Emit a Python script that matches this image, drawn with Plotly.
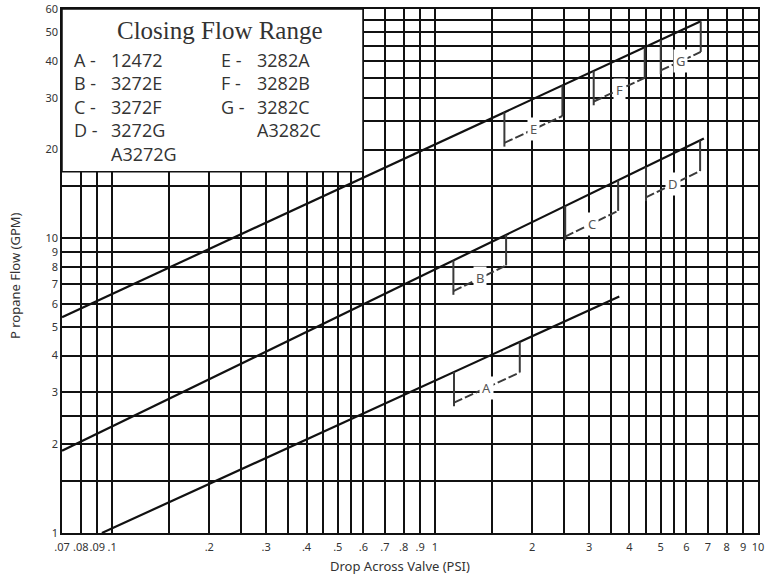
import numpy as np
import plotly.graph_objects as go

# ---------------- data ----------------
x_grid = [0.07, 0.08, 0.09, 0.1, 0.15, 0.2, 0.25, 0.3, 0.35, 0.4, 0.45, 0.5, 0.55, 0.6, 0.7, 0.8, 0.9,
          1, 1.5, 2, 2.5, 3, 3.5, 4, 4.5, 5, 5.5, 6, 7, 8, 9, 10]
x_labels = [".07", ".08", ".09", ".1", "", ".2", "", ".3", "", ".4", "", ".5", "", ".6", ".7", ".8", ".9",
            "1", "", "2", "", "3", "", "4", "", "5", "", "6", "7", "8", "9", "10"]
y_grid = [1, 1.5, 2, 2.5, 3, 4, 5, 6, 7, 8, 9, 10, 15, 20, 25, 30, 35, 40, 45, 50, 55, 60]
y_labels = ["1", "", "2", "", "3", "4", "5", "6", "7", "8", "9", "10", "", "20", "", "30", "", "40", "",
            "50", "", "60"]

# flow lines (end points)
line_x = [[0.07, 6.65], [0.07, 6.8], [0.093, 3.72]]
line_y = [[5.4, 54.5], [1.9, 21.8], [1.0, 6.35]]

# closing flow range brackets
bracket_labels = ["A", "B", "C", "D", "E", "F", "G"]
bracket_line = [2, 1, 1, 1, 0, 0, 0]
bracket_x0 = [1.145, 1.14, 2.53, 4.5, 1.64, 3.10, 5.0]
bracket_x1 = [1.83, 1.66, 3.69, 6.62, 2.48, 4.46, 6.65]
bracket_drop = 1.27

x_title = "Drop Across Valve (PSI)"
y_title = "P ropane Flow (GPM)"
legend_title = "Closing Flow Range"
legend_left_keys = ["A -", "B -", "C -", "D -"]
legend_left_codes = ["12472", "3272E", "3272F", "3272G", "A3272G"]
legend_right_keys = ["E -", "F -", "G -"]
legend_right_codes = ["3282A", "3282B", "3282C", "A3282C"]

# ---------------- figure ----------------
W, H = 767, 576
ML, MR, MT, MB = 62, 9, 9, 43
PW, PH = W - ML - MR, H - MT - MB


def px_x(p):  # window pixel -> paper fraction
    return (p - ML) / PW


def px_y(p):
    return (H - MB - p) / PH


def line_at(i, x):
    return 10 ** np.interp(np.log10(x), np.log10(line_x[i]), np.log10(line_y[i]))


fig = go.Figure()

for lx, ly in zip(line_x, line_y):
    fig.add_trace(go.Scatter(x=lx, y=ly, mode="lines",
                             line=dict(color="#111", width=2.2), hoverinfo="skip"))

annotations = []
for lab, li, x0, x1 in zip(bracket_labels, bracket_line, bracket_x0, bracket_x1):
    t0, t1 = line_at(li, x0), line_at(li, x1)
    b0, b1 = t0 / bracket_drop, t1 / bracket_drop
    fig.add_trace(go.Scatter(x=[x0, x0, None, x1, x1], y=[t0, b0 / 1.03, None, t1, b1],
                             mode="lines", line=dict(color="#3a3a3a", width=2), hoverinfo="skip"))
    fig.add_trace(go.Scatter(x=[x0, x1], y=[b0, b1], mode="lines",
                             line=dict(color="#3a3a3a", width=2, dash="9px,3px"), hoverinfo="skip"))
    xm = np.sqrt(x0 * x1)
    ym = np.sqrt(b0 * b1)
    annotations.append(dict(x=np.log10(xm), y=np.log10(ym), xref="x", yref="y", text=lab,
                            showarrow=False, bgcolor="white", borderpad=2,
                            font=dict(family="Noto Sans", size=13, color="#555")))

# legend box
shapes = [dict(type="rect", xref="paper", yref="paper", x0=0, x1=px_x(363), y0=px_y(171.7), y1=1,
               fillcolor="white", line=dict(color="#111", width=1.5), layer="above")]

annotations.append(dict(x=px_x(220), y=px_y(30), xref="paper", yref="paper", text=legend_title,
                        showarrow=False, xanchor="center", yanchor="middle",
                        font=dict(family="Liberation Serif", size=25, color="#333")))

LFS = 18
ROW = 1.3 * LFS  # plotly line spacing
FIRST_ROW = 60
lfont = dict(family="Open Sans", size=LFS, color="#333")


def legend_column(lines, left_px):
    centre = FIRST_ROW + (len(lines) - 1) / 2 * ROW
    annotations.append(dict(x=px_x(left_px), y=px_y(centre), xref="paper", yref="paper",
                            text="<br>".join(lines), align="left", showarrow=False,
                            xanchor="left", yanchor="middle", borderpad=0, font=lfont))


legend_column(legend_left_keys, 73)
legend_column(legend_left_codes, 110)
legend_column(legend_right_keys, 220)
legend_column(legend_right_codes, 256)

# axis titles
annotations.append(dict(x=px_x(400), y=px_y(566), xref="paper", yref="paper", text=x_title,
                        showarrow=False, xanchor="center", yanchor="middle",
                        font=dict(family="Noto Sans", size=13, color="#333")))
annotations.append(dict(x=px_x(15), y=px_y(276), xref="paper", yref="paper", text=y_title,
                        showarrow=False, xanchor="center", yanchor="middle", textangle=-90,
                        font=dict(family="Noto Sans", size=13, color="#333")))

tickfont = dict(family="Noto Sans", size=11, color="#333")
fig.update_layout(
    width=W, height=H,
    margin=dict(l=ML, r=MR, t=MT, b=MB, autoexpand=False),
    paper_bgcolor="white", plot_bgcolor="white",
    showlegend=False,
    shapes=shapes,
    annotations=annotations,
    xaxis=dict(type="log", range=[np.log10(0.07) - 1e-4, 1 + 1e-4], automargin=False,
               tickmode="array", tickvals=x_grid, ticktext=x_labels, tickangle=0,
               ticklabeloverflow="allow", ticklabelstandoff=3,
               showgrid=True, gridcolor="#111", gridwidth=1.5,
               showline=True, mirror=True, linecolor="#111", linewidth=1.5,
               ticks="", tickfont=tickfont, zeroline=False),
    yaxis=dict(type="log", range=[-1e-4, np.log10(60) + 1e-4], automargin=False,
               tickmode="array", tickvals=y_grid, ticktext=y_labels,
               ticklabeloverflow="allow",
               showgrid=True, gridcolor="#111", gridwidth=1.5,
               showline=True, mirror=True, linecolor="#111", linewidth=1.5,
               ticks="", tickfont=tickfont, zeroline=False),
)

# remove the browser's default 8px body margin so the figure fills the window exactly
fig.write_html("out.html", config={"displayModeBar": False},
               post_script="document.body.style.margin='0';document.body.style.overflow='hidden';")
